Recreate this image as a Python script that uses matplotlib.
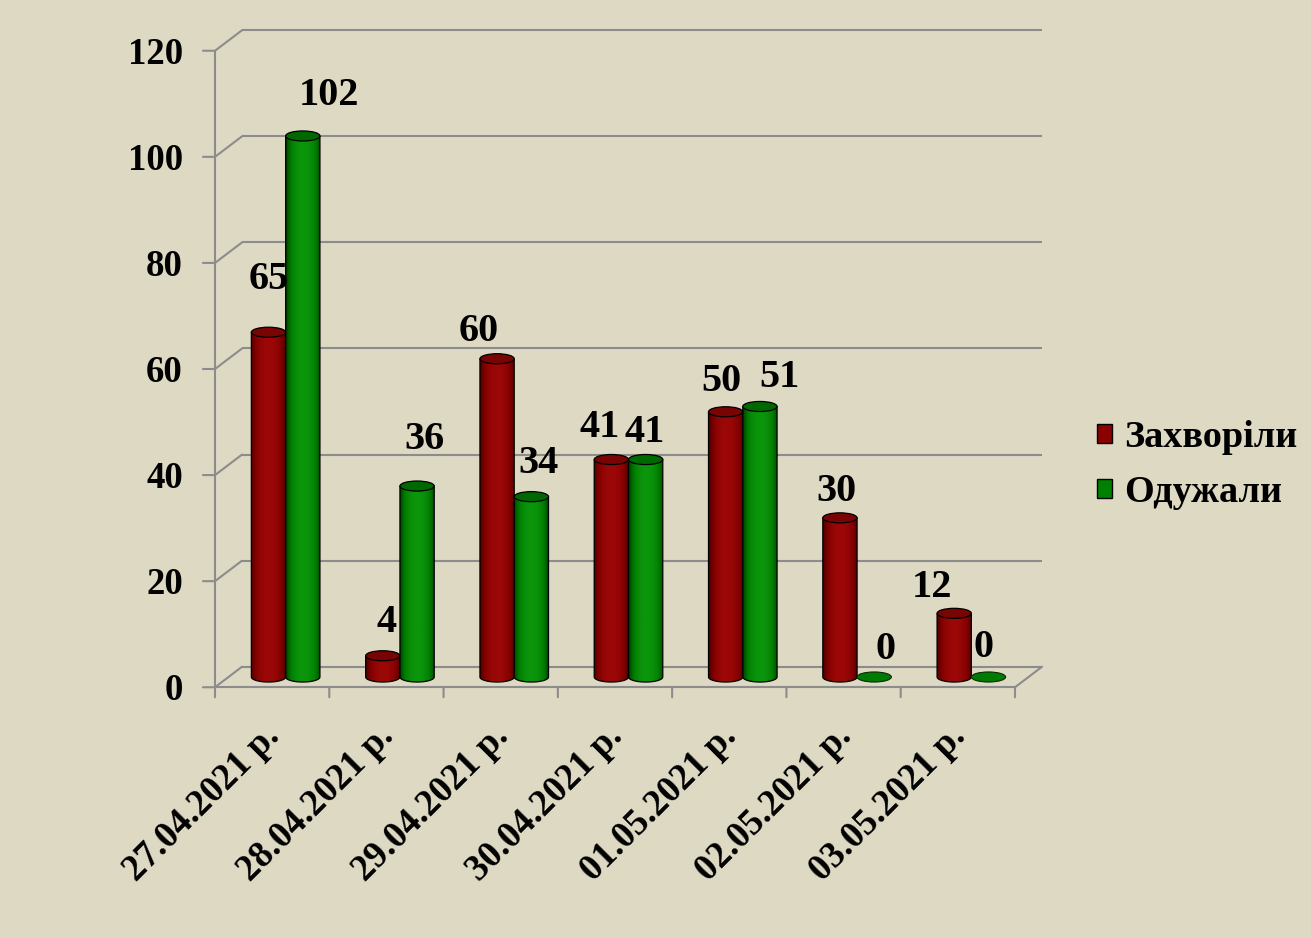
import numpy as np
import matplotlib
matplotlib.use("Agg")
import matplotlib.pyplot as plt
from matplotlib.patches import Ellipse, PathPatch, Patch, ConnectionPatch
from matplotlib.path import Path
from matplotlib.transforms import ScaledTranslation
from matplotlib.colors import LinearSegmentedColormap

dates = ["27.04.2021 р.", "28.04.2021 р.", "29.04.2021 р.", "30.04.2021 р.",
         "01.05.2021 р.", "02.05.2021 р.", "03.05.2021 р."]
sick = [65, 4, 60, 41, 50, 30, 12]
recovered = [102, 36, 34, 41, 51, 0, 0]
series_names = ["Захворіли", "Одужали"]
y_ticks = [0, 20, 40, 60, 80, 100, 120]

# hand placed value labels: pixel nudges (right, down) from the top of each cylinder
sick_nudge = [(0.5, -57), (4, -37), (-18, -31), (-12, -36), (-4, -34), (-3, -30), (-22, -30)]
rec_nudge = [(26, -44.5), (7, -51), (7, -37), (-1, -31), (20, -33), (11, -32), (-5, -34)]

BG = "#DDD9C3"
GRID = "#8C8C8C"
DX, DY = 13.5, 10.25      # half depth of the 3d box, pixels
BAR_W = 0.3
ELL_H = 1.9
FONT = "Liberation Serif"
W, H = 1311, 938
Y_LO = -5                 # room below zero so the cylinder bottoms are not clipped
PX_PER_UNIT = (677 - 40.5) / 120

fig = plt.figure(figsize=(W / 100, H / 100), dpi=100, facecolor=BG)
bottom_px = 677 - Y_LO * PX_PER_UNIT
ax = fig.add_axes([228.5 / W, 1 - bottom_px / H, 800 / W, (bottom_px - 40.5) / H])
ax.set_xlim(-0.5, 6.5)
ax.set_ylim(Y_LO, 120)
ax.set_autoscale_on(False)
ax.axis("off")


def shifted(dx, dy):
    # offset from the mid-depth plane in pixels, dy counted downwards
    return ax.transData + ScaledTranslation(dx / 100, -dy / 100, fig.dpi_scale_trans)


front = shifted(-DX, DY)
back = shifted(DX, -DY)


def seg(xy_a, tr_a, xy_b, tr_b, z=1):
    c = ConnectionPatch(xyA=xy_a, coordsA=tr_a, xyB=xy_b, coordsB=tr_b,
                        color=GRID, lw=1.5, zorder=z, clip_on=False)
    ax.add_artist(c)


# back wall grid and left wall
for v in y_ticks:
    ax.plot([-0.5, 6.5], [v, v], transform=back, color=GRID, lw=1.5,
            clip_on=False, zorder=1, solid_capstyle="butt")
    seg((-0.5, v), front, (-0.5, v), back)
    seg((-0.5, v), front, (-0.5, v), shifted(-DX - 12, DY))
    ax.text(-0.5, v, str(v), transform=shifted(-DX - 32, DY + 13),
            ha="right", va="baseline", fontsize=26.5, fontweight="bold", family=FONT)

ax.plot([-0.5, -0.5], [0, 120], transform=front, color=GRID, lw=1.5, clip_on=False, zorder=1)
ax.plot([-0.5, 6.5], [0, 0], transform=front, color=GRID, lw=1.5, clip_on=False, zorder=1)
seg((6.5, 0), front, (6.5, 0), back)
for k in range(len(dates) + 1):
    seg((-0.5 + k, 0), front, (-0.5 + k, 0), shifted(-DX, DY + 10))

for i, d in enumerate(dates):
    ax.text(i, 0, d, transform=shifted(-DX + 9, DY + 50), rotation=45,
            rotation_mode="anchor", ha="right", va="baseline",
            fontsize=26.5, fontweight="bold", family=FONT)

red_cmap = LinearSegmentedColormap.from_list("r", ["#4a0000", "#820000", "#9c0808"])
green_cmap = LinearSegmentedColormap.from_list("g", ["#003c00", "#007c00", "#0c960c"])
t = np.linspace(0, 1, 80)
grad = (np.sin(np.pi * t) ** 0.8)[None, :]


def cylinder(xc, h, cmap, top_color, flat_color, z):
    a = BAR_W / 2
    b = ELL_H / 2
    if h <= 0:
        ax.add_patch(Ellipse((xc, 0), BAR_W, ELL_H, facecolor=flat_color,
                             edgecolor="#0a2a0a", lw=0.8, zorder=z, clip_on=False))
        return
    th = np.linspace(np.pi, 2 * np.pi, 60)
    verts = [(xc - a, h)] + list(zip(xc + a * np.cos(th), b * np.sin(th))) + [(xc + a, h), (xc - a, h)]
    outline = PathPatch(Path(verts), facecolor="none", edgecolor="black", lw=0.9,
                        zorder=z + 0.03, clip_on=False)
    ax.add_patch(outline)
    im = ax.imshow(grad, extent=(xc - a, xc + a, -b, h), cmap=cmap, aspect="auto",
                   interpolation="bilinear", zorder=z, vmin=0, vmax=1)
    im.set_clip_path(outline)
    ax.add_patch(Ellipse((xc, h), BAR_W, ELL_H, facecolor=top_color, edgecolor="black",
                         lw=0.9, zorder=z + 0.06, clip_on=False))


def value_label(xc, v, nudge):
    dx, dy = nudge
    ax.text(xc, v, str(v), transform=shifted(dx, dy + 13.5), ha="center", va="baseline",
            fontsize=29, fontweight="bold", family=FONT, zorder=20)


for i in range(len(dates)):
    xr = i - BAR_W / 2
    xg = i + BAR_W / 2
    cylinder(xr, sick[i], red_cmap, "#780404", "#8B0000", 3 + i * 0.2)
    cylinder(xg, recovered[i], green_cmap, "#006800", "#007a00", 3.1 + i * 0.2)
    value_label(xr, sick[i], sick_nudge[i])
    value_label(xg, recovered[i], rec_nudge[i])

handles = [Patch(facecolor="#8B0000", edgecolor="black"),
           Patch(facecolor="#008000", edgecolor="black")]
ax.legend(handles, series_names, loc="upper left", bbox_to_anchor=(1097 / W, 1 - 420 / H),
          bbox_transform=fig.transFigure, frameon=False,
          prop=dict(family=FONT, weight="bold", size=27.5),
          handlelength=0.4, handleheight=0.4, handletextpad=0.32,
          labelspacing=0.52, borderpad=0, borderaxespad=0)

fig.savefig("out.png", dpi=100, facecolor=BG)
